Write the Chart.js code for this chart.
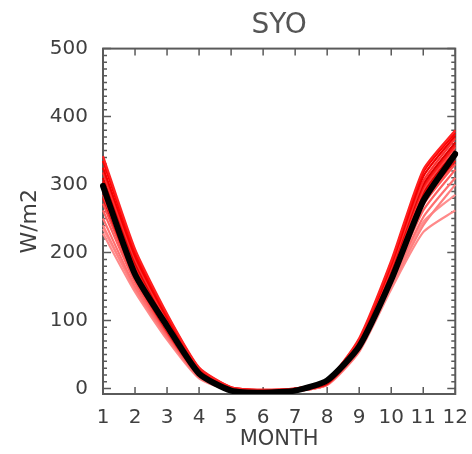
<!DOCTYPE html>
<html><head><meta charset="utf-8">
<script src="https://cdn.jsdelivr.net/npm/chart.js@4.4.1/dist/chart.umd.min.js"></script>
<style>html,body{margin:0;padding:0;background:#fff}#wrap{width:472px;height:454px}</style>
</head><body><div id="wrap"><canvas id="c" width="472" height="454"></canvas></div>
<script>
// ---- data ----
const monthLabels = ['1','2','3','4','5','6','7','8','9','10','11','12'];
const yTickValues = [0, 100, 200, 300, 400, 500];
const observed = [298, 168, 92, 22, -3, -6, -3, 12, 62, 160, 276, 345];
const member01 = [342, 205, 110, 31, 2, -2, 0, 12, 74, 188, 322, 380];
const member02 = [335, 200, 108, 30, 2, -2, 0, 12, 72, 185, 318, 376];
const member03 = [325, 195, 104, 28, 1, -3, -1, 11, 70, 182, 312, 372];
const member04 = [318, 190, 100, 27, 0, -3, -1, 10, 68, 178, 305, 368];
const member05 = [310, 185, 98, 26, 0, -4, -2, 10, 66, 175, 300, 362];
const member06 = [305, 180, 95, 25, -1, -4, -2, 9, 65, 172, 296, 358];
const member07 = [300, 176, 92, 24, -1, -5, -2, 9, 64, 170, 292, 355];
const member08 = [296, 174, 90, 23, -1, -5, -3, 8, 63, 168, 288, 350];
const member09 = [290, 170, 88, 22, -2, -5, -3, 8, 62, 166, 284, 345];
const member10 = [285, 166, 86, 21, -2, -5, -3, 8, 61, 164, 280, 340];
const member11 = [280, 164, 84, 20, -2, -6, -3, 7, 60, 162, 275, 335];
const member12 = [272, 160, 82, 19, -2, -6, -3, 7, 58, 160, 270, 330];
const member13 = [262, 156, 80, 18, -3, -6, -4, 6, 57, 158, 262, 322];
const member14 = [250, 150, 77, 17, -3, -6, -4, 6, 56, 155, 252, 310];
const member15 = [240, 146, 75, 16, -3, -6, -4, 6, 55, 150, 240, 300];
const member16 = [235, 148, 76, 17, -3, -6, -4, 6, 56, 152, 245, 285];
const member17 = [228, 142, 72, 15, -3, -7, -4, 5, 54, 146, 230, 262];
const members = [member01, member02, member03, member04, member05, member06, member07, member08, member09,
                 member10, member11, member12, member13, member14, member15, member16, member17];

// ---- styling ----
const memberPalette = ['#ff2020','#ff0000','#f00000','#ff3030','#e00000','#ff1a1a','#ff4040','#d80000','#ff0000',
                       '#ff3a3a','#ee1010','#ff5050','#ff6060','#ff7070','#ff8080','#ff9090','#ff8a8a'];
const FONT = "'DejaVu Sans', Arial, Helvetica, sans-serif";
const TXT = '#3f3f3f';

const datasets = [{
  data: observed, borderColor: '#000', borderWidth: 6, pointRadius: 0, tension: 0.2,
  borderJoinStyle: 'round', borderCapStyle: 'round'
}].concat(members.map((m, i) => ({
  data: m, borderColor: memberPalette[i % memberPalette.length], borderWidth: 2.2, pointRadius: 0, tension: 0.2
})));

const framePlugin = {
  id: 'frame',
  beforeDatasetsDraw(chart) {
    const {ctx, chartArea: {left, right, top, bottom}, scales: {x, y}} = chart;
    ctx.save();
    ctx.strokeStyle = '#5a5a5a';
    ctx.lineWidth = 2;
    ctx.strokeRect(left, top, right - left, bottom - top);
    ctx.lineWidth = 1.5;
    ctx.beginPath();
    for (let i = 0; i < monthLabels.length; i++) {
      const px = x.getPixelForValue(i);
      ctx.moveTo(px, bottom); ctx.lineTo(px, bottom - 7);
      ctx.moveTo(px, top); ctx.lineTo(px, top + 7);
    }
    for (let v = 0; v <= 500; v += 10) {
      const py = y.getPixelForValue(v);
      const len = v % 100 === 0 ? 8 : 4;
      ctx.moveTo(left, py); ctx.lineTo(left + len, py);
      ctx.moveTo(right, py); ctx.lineTo(right - len, py);
    }
    ctx.stroke();
    ctx.restore();
  }
};

new Chart(document.getElementById('c'), {
  type: 'line',
  data: { labels: monthLabels, datasets },
  plugins: [framePlugin],
  options: {
    responsive: false, animation: false,
    layout: { padding: { top: 2, right: 14, left: 0, bottom: 0 } },
    plugins: {
      legend: { display: false }, tooltip: { enabled: false },
      title: { display: true, text: 'SYO', color: '#555', fullSize: false,
               font: { family: FONT, size: 28, weight: 'normal' }, padding: { top: 7, bottom: 6 } }
    },
    scales: {
      x: {
        type: 'category',
        grid: { display: false }, border: { display: false },
        ticks: { color: TXT, font: { family: FONT, size: 20 }, padding: 4, maxRotation: 0, autoSkip: false },
        title: { display: true, text: 'MONTH', color: TXT, font: { family: FONT, size: 21 }, padding: { top: 0, bottom: 2 } },
        afterFit(s) { s.height = 60; }
      },
      y: {
        min: -8, max: 500,
        grid: { display: false }, border: { display: false },
        afterBuildTicks(s) { s.ticks = yTickValues.map(v => ({ value: v })); },
        ticks: { color: TXT, font: { family: FONT, size: 20 }, padding: 7 },
        title: { display: true, text: 'W/m2', color: TXT, font: { family: FONT, size: 22 }, padding: { top: 17, bottom: 0 } },
        afterFit(s) { s.width = 103; }
      }
    }
  }
});
</script></body></html>
